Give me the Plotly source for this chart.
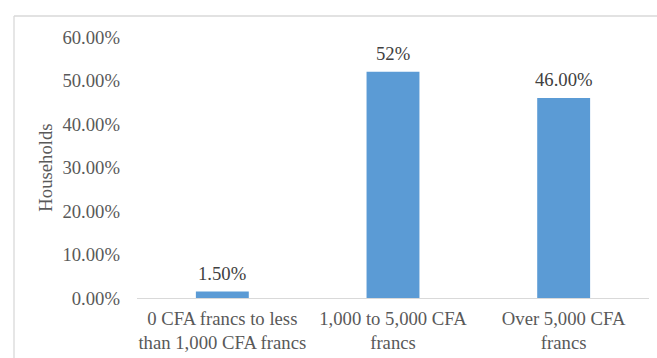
import plotly.graph_objects as go

categories = ["0 CFA francs to less<br>than 1,000 CFA francs",
              "1,000 to 5,000 CFA<br>francs",
              "Over 5,000 CFA<br>francs"]
shares = [0.015, 0.52, 0.46]
value_labels = ["1.50%", "52%", "46.00%"]
y_ticks = [0, 0.1, 0.2, 0.3, 0.4, 0.5, 0.6]

W, H = 657, 358
ML, MR, MT, MB = 137, 8, 37, 60
FONT = "Liberation Serif"
FS = 18.7
TXT = "#595959"

fig = go.Figure(go.Bar(
    x=categories, y=shares,
    marker=dict(color="#5B9BD5", line=dict(width=0)),
))

# value labels sitting above each bar
for cat, val, lab in zip(categories, shares, value_labels):
    fig.add_annotation(x=cat, y=val, text=lab, showarrow=False,
                       yanchor="middle", yshift=18,
                       font=dict(family=FONT, size=FS, color="#404040"))

pw = W - ML - MR
ph = H - MT - MB


def px(x):
    return (x - ML) / pw


def py(y):
    return (H - MB - y) / ph


border = dict(color="#D9D9D9", width=1.3)
fig.add_shape(type="line", xref="paper", yref="paper",
              x0=px(14), x1=px(657), y0=py(16), y1=py(16), line=border)
fig.add_shape(type="line", xref="paper", yref="paper",
              x0=px(14), x1=px(14), y0=py(16), y1=py(358), line=border)

fig.update_layout(
    width=W, height=H,
    margin=dict(l=ML, r=MR, t=MT, b=MB),
    paper_bgcolor="white", plot_bgcolor="white",
    bargap=0.69, showlegend=False,
    font=dict(family=FONT, size=FS, color=TXT),
    xaxis=dict(showline=True, linecolor="#D9D9D9", linewidth=1.3,
               ticks="", showgrid=False, ticklabelstandoff=3,
               automargin=False,
               tickfont=dict(family=FONT, size=FS, color=TXT)),
    yaxis=dict(range=[0, 0.6], tickvals=y_ticks, tickformat=".2%",
               showgrid=False, zeroline=False, showline=False, ticks="",
               ticklabelstandoff=16, automargin=False,
               tickfont=dict(family=FONT, size=FS, color=TXT),
               title=dict(text="Households", standoff=4,
                          font=dict(family=FONT, size=FS, color=TXT))),
)

fig.write_html("out.html")
